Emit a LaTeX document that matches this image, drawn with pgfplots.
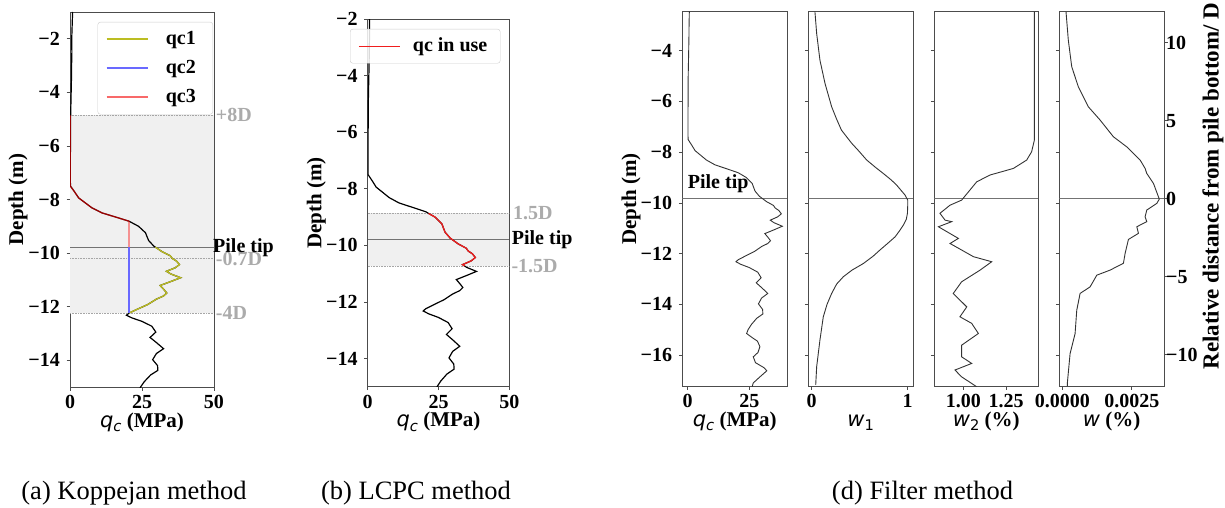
\documentclass[border=0pt]{standalone}
\usepackage{fontspec}
\setmainfont{Liberation Serif}
\newfontfamily\djs{DejaVu Sans}
\usepackage{pgfplots}
\usepackage{pgfplotstable}
\pgfplotsset{compat=1.18}

\definecolor{olivec}{RGB}{188,189,34}
\definecolor{redc}{RGB}{240,30,30}
\definecolor{lred}{RGB}{248,105,105}
\definecolor{lblue}{RGB}{105,105,255}
\newcommand{\tf}{\fontsize{20}{20}\selectfont\bfseries}
\newcommand{\lf}{\fontsize{21}{24}\selectfont\bfseries}
\newcommand{\mq}{{\djs\mdseries\itshape q}\raisebox{-0.22em}{\djs\mdseries\itshape\fontsize{14.7}{14}\selectfont c}}
\newcommand{\mw}[1]{{\djs\mdseries\itshape w}\raisebox{-0.22em}{\djs\mdseries\fontsize{14.7}{14}\selectfont #1}}

\pgfplotstableread{
d q
-1.0 0.9
-1.5 0.75
-2.0 0.6
-2.5 0.65
-3.0 0.55
-3.5 0.5
-4.0 0.4
-4.5 0.3
-5.0 0.2
-6.0 0.15
-7.0 0.1
-7.5 0.15
-7.7 1.5
-7.94 3.0
-8.1 5.0
-8.31 7.6
-8.5 11.1
-8.65 15.7
-8.81 20.5
-9.0 23.8
-9.24 26.2
-9.4 26.8
-9.53 27.3
-9.74 29.1
-9.95 32.0
-10.1 34.8
-10.2 35.5
-10.3 37.0
-10.43 38.0
-10.55 36.5
-10.68 33.5
-10.78 35.0
-10.92 38.4
-11.05 35.3
-11.21 31.3
-11.35 32.5
-11.49 33.6
-11.6 32.5
-11.72 30.0
-11.92 27.0
-12.11 23.1
-12.24 20.5
-12.32 19.6
-12.42 21.5
-12.55 25.0
-12.73 28.4
-12.95 29.8
-13.15 27.8
-13.35 30.1
-13.57 32.5
-13.75 30.0
-13.98 28.7
-14.2 30.4
-14.38 30.5
-14.55 28.0
-14.8 25.8
-15.0 24.5
-15.15 23.9
-15.3 26.0
-15.45 28.3
-15.67 29.3
-15.9 28.5
-16.07 26.6
-16.3 27.5
-16.5 31.0
-16.62 32.1
-16.86 29.3
-17.1 26.6
-17.3 26.0
}\qcdata

\pgfplotstableread{
d w
-2.46 0.034
-3.32 0.052
-4.37 0.086
-5.29 0.139
-6.21 0.208
-6.70 0.26
-7.13 0.31
-7.65 0.417
-7.95 0.49
-8.31 0.573
-8.60 0.665
-8.84 0.746
-9.10 0.83
-9.30 0.885
-9.69 0.972
-9.89 1.0
-10.10 1.0
-10.41 0.997
-10.65 0.985
-10.87 0.955
-11.10 0.915
-11.34 0.868
-11.60 0.79
-11.86 0.71
-12.10 0.64
-12.39 0.538
-12.65 0.42
-12.91 0.33
-13.20 0.26
-13.57 0.208
-14.00 0.16
-14.49 0.121
-15.41 0.086
-16.46 0.052
-17.18 0.042
}\wonedata

\pgfplotstableread{
d w
-2.46 1.416
-7.52 1.416
-7.98 1.40
-8.31 1.371
-8.64 1.293
-8.77 1.225
-8.90 1.156
-9.17 1.078
-9.49 1.039
-9.89 0.99
-10.09 0.922
-10.41 0.863
-10.68 0.893
-10.74 0.932
-10.94 0.854
-11.40 0.971
-11.60 0.922
-12.12 1.059
-12.32 1.166
-12.65 1.098
-13.11 0.99
-13.57 0.941
-14.10 1.02
-14.49 0.98
-14.75 1.049
-15.15 1.088
-15.61 0.99
-16.07 0.99
-16.33 1.049
-16.59 0.951
-16.86 0.99
-17.12 1.049
-17.25 1.078
}\wtwodata

\pgfplotstableread{
d w
-2.46 0.000133
-3.58 0.000216
-4.63 0.000339
-5.42 0.000576
-6.21 0.000937
-6.73 0.001358
-7.39 0.001837
-7.79 0.00232
-8.31 0.0028
-8.64 0.00298
-8.84 0.00304
-9.23 0.00328
-9.85 0.00349
-10.02 0.0034
-10.28 0.00304
-10.55 0.00298
-10.74 0.00304
-10.94 0.00268
-11.20 0.00274
-11.44 0.00238
-11.99 0.00226
-12.38 0.0022
-12.65 0.00172
-12.85 0.00124
-13.31 0.001
-13.57 0.00064
-14.23 0.00052
-15.15 0.00046
-15.94 0.00028
-17.12 0.00018
-17.22 0.00018
}\wdata

\pgfplotsset{
  base/.style={
    scale only axis, anchor=south west,
    axis line style={black!70, line width=0.8pt},
    tick style={black!70, line width=0.8pt},
    tick align=outside, major tick length=3.5pt, tick pos=left,
    scaled ticks=false,
    clip mode=individual,
    ticklabel style={font=\tf},
    xticklabel style={anchor=base, yshift=-18pt, inner sep=0pt},
    yticklabel style={anchor=east, inner sep=0pt, xshift=-6.5pt},
    label style={font=\lf},
    xlabel style={at={(axis description cs:0.5,0)}, anchor=base, yshift=-40pt, inner sep=0pt},
    ylabel style={anchor=center, inner sep=0pt},
  },
  dsub/.style={base, width=104.7pt, height=374.3pt, ymin=-17.22, ymax=-2.46,
    ytick={-16,-14,...,-4}},
}

\begin{document}
\begin{tikzpicture}
\useasboundingbox (0,0) rectangle (1225pt,507pt);

% ---------------- (a) Koppejan
\begin{axis}[base, at={(70pt,120pt)}, width=144pt, height=375pt,
  xmin=0, xmax=50, ymin=-15, ymax=-1,
  xtick={0,25,50}, xticklabels={0,25,50},
  ytick={-14,-12,...,-2}, yticklabels={−14,−12,−10,−8,−6,−4,−2},
  xlabel={\mq\ (MPa)}, ylabel={Depth (m)},
  ylabel style={at={(axis description cs:-0.361,0.5)}},
  legend style={at={(axis description cs:1,1)}, anchor=north east, xshift=-1pt, yshift=-10pt,
    draw=black!20, fill=white, rounded corners=2.5pt, inner xsep=8pt, inner ysep=8pt,
    font=\tf, row sep=11pt, nodes={inner sep=0pt, text height=14pt, text depth=4pt}},
  legend image code/.code={\draw[#1] (0pt,0pt) -- (41pt,0pt);},
  legend cell align=left,
]
\addplot[draw=none, fill=black!6, forget plot] coordinates {(0,-4.86)(50,-4.86)(50,-12.24)(0,-12.24)};
\addplot[black!35, densely dotted, line width=0.6pt, forget plot] coordinates {(0,-4.86)(50,-4.86)};
\addplot[black!35, densely dotted, line width=0.6pt, forget plot] coordinates {(0,-10.21)(50,-10.21)};
\addplot[black!35, densely dotted, line width=0.6pt, forget plot] coordinates {(0,-12.24)(50,-12.24)};
\addplot[black!55, line width=0.9pt, forget plot] coordinates {(0,-9.78)(50,-9.78)};
\addplot[black, line width=1.2pt, forget plot] table[x=q, y=d]{\qcdata};
\addplot[draw=olivec, line width=1.3pt, forget plot] coordinates {(29.65,-9.78)(32.0,-9.95)(34.8,-10.1)(35.5,-10.2)(37.0,-10.3)(38.0,-10.43)(36.5,-10.55)(33.5,-10.68)(35.0,-10.78)(38.4,-10.92)(35.3,-11.05)(31.3,-11.21)(32.5,-11.35)(33.6,-11.49)(32.5,-11.6)(30.0,-11.72)(27.0,-11.92)(23.1,-12.11)(20.5,-12.24)};
\addplot[draw=lblue, line width=1.3pt, forget plot] coordinates {(20.5,-9.78)(20.5,-12.24)};
\addplot[draw=red, draw opacity=0.6, line width=1.3pt, forget plot] coordinates {(0.1,-4.86)(0.1,-7.5)(1.5,-7.7)(3.0,-7.94)(5.0,-8.1)(7.6,-8.31)(11.1,-8.5)(15.7,-8.65)(20.5,-8.81)(20.5,-9.78)};
\addlegendimage{draw=olivec, line width=1.5pt}
\addlegendentry{\hspace*{17.5pt}\makebox[39pt][l]{qc1}}
\addlegendimage{draw=lblue, line width=1.5pt}
\addlegendentry{\hspace*{17.5pt}\makebox[39pt][l]{qc2}}
\addlegendimage{draw=lred, line width=1.5pt}
\addlegendentry{\hspace*{17.5pt}\makebox[39pt][l]{qc3}}
\node[anchor=west, inner sep=0pt, xshift=1.7pt, text=black!33, font=\tf] at (axis cs:50,-4.86) {+8D};
\node[anchor=west, inner sep=0pt, xshift=1.7pt, text=black!33, font=\tf] at (axis cs:50,-10.21) {-0.7D};
\node[anchor=west, inner sep=0pt, xshift=1.7pt, text=black!33, font=\tf] at (axis cs:50,-12.24) {-4D};
\node[anchor=base west, inner sep=0pt, xshift=-1pt, yshift=-5pt, font=\tf] at (axis cs:50,-9.78) {Pile tip};
\end{axis}

% ---------------- (b) LCPC
\begin{axis}[base, at={(367.7pt,120.3pt)}, width=141.6pt, height=367.4pt,
  xmin=0, xmax=50, ymin=-15, ymax=-2,
  xtick={0,25,50}, xticklabels={0,25,50},
  ytick={-14,-12,...,-2}, yticklabels={−14,−12,−10,−8,−6,−4,−2},
  xlabel={\mq\ (MPa)}, ylabel={Depth (m)},
  ylabel style={at={(axis description cs:-0.362,0.5)}},
  legend style={at={(axis description cs:0,1)}, anchor=north west, xshift=-17.7pt, yshift=-9.7pt,
    draw=black!20, fill=white, fill opacity=0.85, text opacity=1, rounded corners=2.5pt, inner xsep=8pt, inner ysep=8pt,
    font=\tf, nodes={inner sep=0pt, text height=14pt, text depth=4pt}},
  legend image code/.code={\draw[#1] (0pt,0pt) -- (41pt,0pt);},
  legend cell align=left,
]
\addplot[draw=none, fill=black!6, forget plot] coordinates {(0,-8.87)(50,-8.87)(50,-10.73)(0,-10.73)};
\addplot[black!35, densely dotted, line width=0.6pt, forget plot] coordinates {(0,-8.87)(50,-8.87)};
\addplot[black!35, densely dotted, line width=0.6pt, forget plot] coordinates {(0,-10.73)(50,-10.73)};
\addplot[black!55, line width=0.9pt, forget plot] coordinates {(0,-9.78)(50,-9.78)};
\addplot[black, line width=1.2pt, forget plot] table[x=q, y=d]{\qcdata};
\addplot[draw=redc, line width=1.3pt] coordinates {(21.5,-8.87)(23.8,-9.0)(26.2,-9.24)(26.8,-9.4)(27.3,-9.53)(29.1,-9.74)(32.0,-9.95)(34.8,-10.1)(35.5,-10.2)(37.0,-10.3)(38.0,-10.43)(36.5,-10.55)(33.5,-10.68)(34.2,-10.73)};
\addlegendentry{\hspace*{12.4pt}\makebox[79.3pt][l]{qc in use}}
\node[anchor=west, inner sep=0pt, xshift=3.7pt, text=black!33, font=\tf] at (axis cs:50,-8.87) {1.5D};
\node[anchor=west, inner sep=0pt, xshift=2pt, text=black!33, font=\tf] at (axis cs:50,-10.73) {-1.5D};
\node[anchor=base west, inner sep=0pt, xshift=2.4pt, yshift=-5.7pt, font=\tf] at (axis cs:50,-9.78) {Pile tip};
\end{axis}

% ---------------- (d) filter: qc
\begin{axis}[dsub, at={(682.3pt,121pt)}, width=105pt,
  xmin=-2.19, xmax=40.42, xtick={0,25}, xticklabels={0,25},
  yticklabels={−16,−14,−12,−10,−8,−6,−4},
  xlabel={\mq\ (MPa)}, ylabel={Depth (m)},
  ylabel style={at={(axis description cs:-0.489,0.5)}},
]
\addplot[black!55, line width=0.9pt] coordinates {(-2.19,-9.84)(40.42,-9.84)};
\addplot[black!80, line width=0.9pt] table[x=q, y=d]{\qcdata};
\node[anchor=base west, inner sep=0pt, yshift=10pt, font=\tf] at (axis cs:0,-9.84) {Pile tip};
\end{axis}

% ---------------- w1
\begin{axis}[dsub, at={(808.3pt,121pt)},
  xmin=-0.035, xmax=1.055, xtick={0,1}, xticklabels={0,1},
  yticklabels={}, xlabel={\mw{1}},
]
\addplot[black!55, line width=0.9pt] coordinates {(-0.035,-9.84)(1.055,-9.84)};
\addplot[black!80, line width=0.9pt] table[x=w, y=d]{\wonedata};
\end{axis}

% ---------------- w2
\begin{axis}[dsub, at={(934.3pt,121pt)}, width=104pt,
  xmin=0.830, xmax=1.439, xtick={1,1.25}, xticklabels={1.00,1.25},
  yticklabels={}, xlabel={\mw{2} (\%)},
]
\addplot[black!55, line width=0.9pt] coordinates {(0.83,-9.84)(1.439,-9.84)};
\addplot[black!80, line width=0.9pt] table[x=w, y=d]{\wtwodata};
\end{axis}

% ---------------- w
\begin{axis}[dsub, at={(1059.3pt,121pt)},
  xmin=-0.000108, xmax=0.00366, xtick={0,0.0025}, xticklabels={0.0000,0.0025},
  yticklabels={}, ytick pos=left, xlabel={{\djs\mdseries\itshape w} (\%)},
]
\addplot[black!55, line width=0.9pt] coordinates {(-0.000108,-9.84)(0.00366,-9.84)};
\addplot[black!80, line width=0.9pt] table[x=w, y=d]{\wdata};
\end{axis}
\begin{axis}[base, at={(1059.3pt,121pt)}, width=104.7pt, height=374.3pt,
  xmin=0, xmax=1, ymin=-12, ymax=12, axis x line=none, axis y line*=right,
  ytick={-10,-5,0,5,10}, yticklabels={−10,−5,0,5,10}, ytick pos=right,
  yticklabel style={anchor=west, xshift=5pt},
  ylabel={Relative distance from pile bottom/ D},
  ylabel style={at={(axis description cs:1.468,0.534)}, font=\fontsize{23}{24}\selectfont\bfseries},
]
\addplot[draw=none] coordinates {(0.5,0)};
\end{axis}

% captions
\node[anchor=base, inner sep=0pt, font=\fontsize{26.5}{30}\selectfont] at (134pt,8pt) {(a) Koppejan method};
\node[anchor=base, inner sep=0pt, font=\fontsize{26.5}{30}\selectfont] at (416pt,8pt) {(b) LCPC method};
\node[anchor=base, inner sep=0pt, font=\fontsize{26.5}{30}\selectfont] at (922.5pt,8pt) {(d) Filter method};
\end{tikzpicture}
\end{document}
